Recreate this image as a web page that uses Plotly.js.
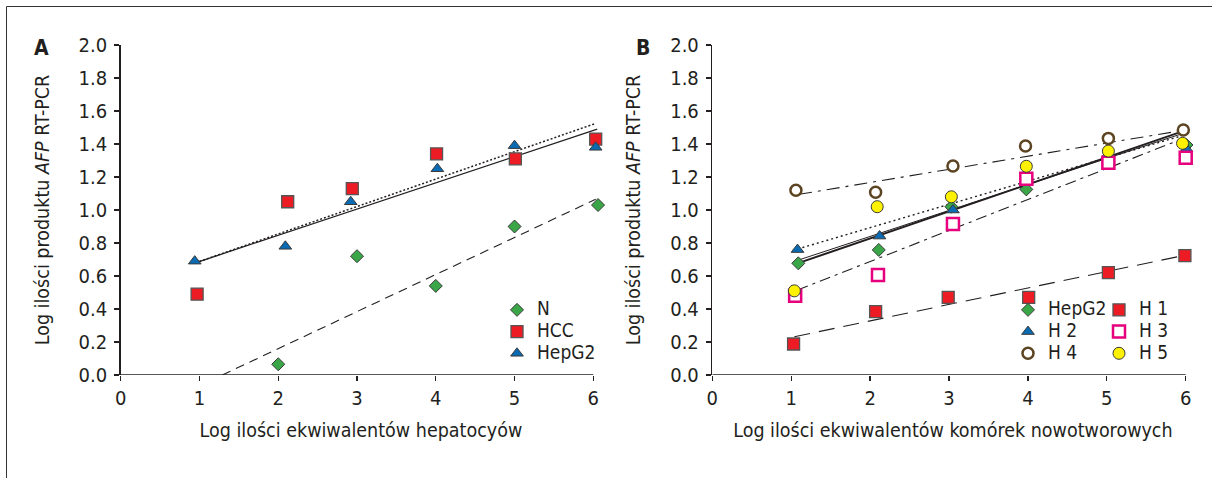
<!DOCTYPE html>
<html><head><meta charset="utf-8">
<script src="https://cdn.plot.ly/plotly-3.0.1.min.js"></script>
<style>html,body{margin:0;padding:0;background:#fff}#chart{width:1212px;height:478px}</style>
</head><body><div id="chart"></div>
<script>
// ---------- Panel A data ----------
const aN_x   = [2.0, 3.0, 4.0, 5.0, 6.06];
const aN_y   = [0.065, 0.72, 0.54, 0.90, 1.03];
const aHCC_x = [0.97, 2.12, 2.94, 4.01, 5.01, 6.03];
const aHCC_y = [0.49, 1.05, 1.13, 1.34, 1.31, 1.43];
const aHep_x = [0.94, 2.09, 2.92, 4.02, 5.0, 6.03];
const aHep_y = [0.69, 0.78, 1.05, 1.25, 1.39, 1.38];
// trend lines (endpoints)
const aNfit_x   = [1.29, 6.03], aNfit_y   = [0.0, 1.065];
const aHCCfit_x = [0.95, 6.03], aHCCfit_y = [0.68, 1.525];
const aHepfit_x = [0.95, 6.05], aHepfit_y = [0.68, 1.49];

// ---------- Panel B data ----------
const bHep_x = [1.09, 2.11, 3.03, 3.98, 5.02, 6.01];
const bHep_y = [0.677, 0.758, 1.02, 1.125, 1.317, 1.394];
const bH1_x  = [1.03, 2.07, 2.99, 4.01, 5.02, 5.99];
const bH1_y  = [0.188, 0.384, 0.471, 0.471, 0.62, 0.723];
const bH2_x  = [1.08, 2.12, 3.05, 3.98, 5.02, 6.01];
const bH2_y  = [0.76, 0.842, 1.0, 1.18, 1.34, 1.37];
const bH3_x  = [1.05, 2.10, 3.05, 3.98, 5.02, 6.0];
const bH3_y  = [0.48, 0.606, 0.915, 1.19, 1.287, 1.317];
const bH4_x  = [1.06, 2.07, 3.05, 3.97, 5.02, 5.97];
const bH4_y  = [1.12, 1.107, 1.267, 1.388, 1.434, 1.485];
const bH5_x  = [1.04, 2.09, 3.03, 3.98, 5.02, 5.96];
const bH5_y  = [0.51, 1.02, 1.08, 1.265, 1.357, 1.404];
// trend lines (endpoints)
const bHepfit_x = [1.07, 5.95], bHepfit_y = [0.675, 1.475];
const bH5fit_x  = [1.05, 5.95], bH5fit_y  = [0.69, 1.462];
const bH2fit_x  = [1.02, 5.95], bH2fit_y  = [0.755, 1.45];
const bH3fit_x  = [1.08, 5.95], bH3fit_y  = [0.515, 1.43];
const bH4fit_x  = [1.10, 5.93], bH4fit_y  = [1.095, 1.48];
const bH1fit_x  = [1.04, 6.0],  bH1fit_y  = [0.232, 0.727];

// tick labels
const xTicks = [0, 1, 2, 3, 4, 5, 6];
const yTicks = [0, 0.2, 0.4, 0.6, 0.8, 1.0, 1.2, 1.4, 1.6, 1.8, 2.0];

const FONT = 'DejaVu Sans Condensed, Liberation Sans Narrow, sans-serif';
const INK = '#231f20';
const GREEN = '#3aa648', RED = '#ed1c24', BLUE = '#0a6bb3', YELLOW = '#fff200', MAGENTA = '#e6007e', BROWN = '#5c4423';
const EDGE = {color: '#3a3a3a', width: 1};

function fit(x, y, xa, ya, dash, width) {
  return {x: x, y: y, xaxis: xa, yaxis: ya, mode: 'lines', type: 'scatter', showlegend: false,
          cliponaxis: false, hoverinfo: 'skip', line: {color: INK, width: width, dash: dash}};
}
function pts(name, x, y, xa, ya, legend, symbol, size, color, line) {
  return {x: x, y: y, xaxis: xa, yaxis: ya, mode: 'markers', type: 'scatter', legend: legend,
          name: '<span style="font-size:19px">' + name + '</span>', cliponaxis: false,
          marker: {symbol: symbol, size: size, color: color, line: line}};
}

const traces = [
  fit(aNfit_x, aNfit_y, 'x', 'y', '9px,6px', 1.1),
  fit(aHCCfit_x, aHCCfit_y, 'x', 'y', '2px,2px', 1.5),
  fit(aHepfit_x, aHepfit_y, 'x', 'y', 'solid', 1.3),
  pts('N', aN_x, aN_y, 'x', 'y', 'legend', 'diamond', 10, GREEN, EDGE),
  pts('HCC', aHCC_x, aHCC_y, 'x', 'y', 'legend', 'square', 12, RED, {color: '#555', width: 1.3}),
  pts('HepG2', aHep_x, aHep_y, 'x', 'y', 'legend', 'triangle-up', 11, BLUE, EDGE),

  fit(bH1fit_x, bH1fit_y, 'x2', 'y2', '16px,9px', 1.1),
  fit(bH4fit_x, bH4fit_y, 'x2', 'y2', '13px,6px,3px,6px', 1.1),
  fit(bH3fit_x, bH3fit_y, 'x2', 'y2', '11px,5px,3px,5px', 1.1),
  fit(bH2fit_x, bH2fit_y, 'x2', 'y2', '2px,3px', 1.4),
  fit(bH5fit_x, bH5fit_y, 'x2', 'y2', 'solid', 1.0),
  fit(bHepfit_x, bHepfit_y, 'x2', 'y2', 'solid', 2.0),
  pts('HepG2', bHep_x, bHep_y, 'x2', 'y2', 'legend2', 'diamond', 10, GREEN, EDGE),
  pts('H 2', bH2_x, bH2_y, 'x2', 'y2', 'legend2', 'triangle-up', 11, BLUE, EDGE),
  pts('H 4', bH4_x, bH4_y, 'x2', 'y2', 'legend2', 'circle', 11, '#ffffff', {color: BROWN, width: 2.5}),
  pts('H 1', bH1_x, bH1_y, 'x2', 'y2', 'legend3', 'square', 12, RED, {color: '#555', width: 1.3}),
  pts('H 3', bH3_x, bH3_y, 'x2', 'y2', 'legend3', 'square', 12, '#ffffff', {color: MAGENTA, width: 2.5}),
  pts('H 5', bH5_x, bH5_y, 'x2', 'y2', 'legend3', 'circle', 12, YELLOW, EDGE)
];

const PY = px => 1 - px / 478;
const PX = px => px / 1212;
const XMAX = 6.1;   // a little room right of the last tick so markers at ~6 stay visible

function xax(x0px, unit, anchor, title) {
  return {domain: [PX(x0px), PX(x0px + XMAX * unit)], anchor: anchor, range: [0, XMAX],
          tickvals: xTicks, ticktext: xTicks.map(String),
          showline: false, ticks: 'outside', ticklen: 5, tickwidth: 1.2, tickcolor: INK,
          showgrid: false, zeroline: false, fixedrange: true, ticklabelstandoff: 0,
          tickfont: {family: FONT, size: 20, color: INK},
          title: {text: title, font: {family: FONT, size: 19.5, color: INK}, standoff: 14}};
}
function yax(anchor) {
  return {domain: [PY(375), PY(45)], anchor: anchor, range: [0, 2], tickvals: yTicks,
          ticktext: yTicks.map(v => v.toFixed(1)),
          showline: true, linecolor: INK, linewidth: 1.5, ticks: 'outside', ticklen: 5, tickwidth: 1.2, tickcolor: INK,
          showgrid: false, zeroline: false, fixedrange: true, ticklabelstandoff: 3,
          tickfont: {family: FONT, size: 20, color: INK},
          title: {text: 'Log ilości produktu <i>AFP</i> RT-PCR', font: {family: FONT, size: 19.5, color: INK}, standoff: 24}};
}
function leg(xpx) {
  return {x: PX(xpx), y: PY(294), xanchor: 'left', yanchor: 'top', bgcolor: 'rgba(0,0,0,0)', borderwidth: 0,
          font: {family: FONT, size: 14.4, color: INK}, tracegroupgap: 0};
}
function xline(xref, yref) {
  return {type: 'line', xref: xref, yref: yref, x0: xTicks[0], x1: xTicks[xTicks.length - 1], y0: 0, y1: 0,
          line: {color: INK, width: 1.5}};
}

const layout = {
  width: 1212, height: 478, margin: {l: 0, r: 0, t: 0, b: 0},
  paper_bgcolor: '#ffffff', plot_bgcolor: 'rgba(0,0,0,0)',
  font: {family: FONT, color: INK},
  xaxis: xax(120.7, 78.77, 'y', 'Log ilości ekwiwalentów hepatocyów'),
  yaxis: yax('x'),
  xaxis2: xax(712.3, 78.9, 'y2', 'Log ilości ekwiwalentów komórek nowotworowych'),
  yaxis2: yax('x2'),
  legend: leg(497), legend2: leg(1008), legend3: leg(1099),
  shapes: [
    xline('x', 'y'), xline('x2', 'y2'),
    {type: 'line', xref: 'paper', yref: 'paper', x0: PX(6.5), x1: 1, y0: PY(6.5), y1: PY(6.5), line: {color: '#333', width: 1}},
    {type: 'line', xref: 'paper', yref: 'paper', x0: PX(6.5), x1: PX(6.5), y0: 0, y1: PY(6.5), line: {color: '#333', width: 1}}
  ],
  annotations: [
    {text: '<b>A</b>', xref: 'paper', yref: 'paper', x: PX(32), y: PY(34), showarrow: false, font: {family: FONT, size: 21, color: INK}},
    {text: '<b>B</b>', xref: 'paper', yref: 'paper', x: PX(643), y: PY(34), showarrow: false, font: {family: FONT, size: 21, color: INK}}
  ]
};

Plotly.newPlot('chart', traces, layout, {displayModeBar: false, staticPlot: true});
</script></body></html>
